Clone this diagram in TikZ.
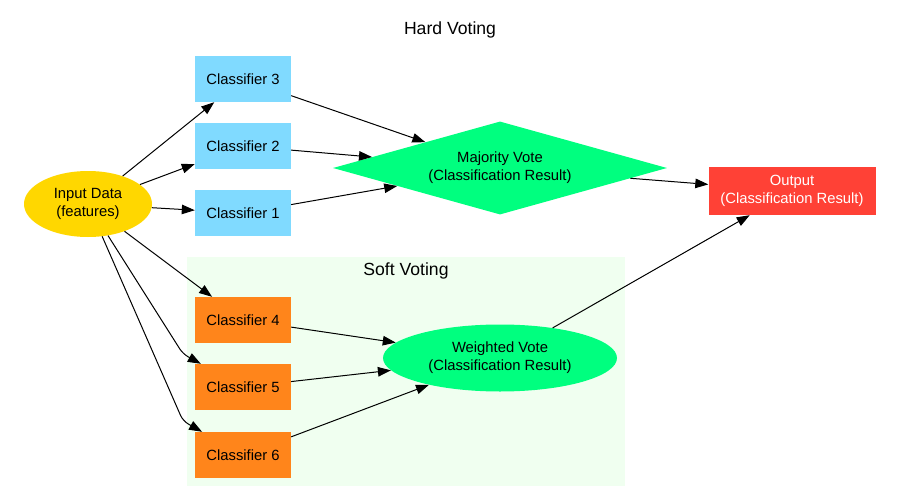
\documentclass[tikz,border=0pt]{standalone}
\usepackage{fontspec}
\setmainfont{Liberation Sans}
\usetikzlibrary{shapes.geometric,arrows.meta}
\definecolor{cblue}{RGB}{128,218,255}
\definecolor{corange}{RGB}{255,133,27}
\definecolor{cgreen}{RGB}{0,255,127}
\definecolor{cred}{RGB}{255,65,54}
\definecolor{cgold}{RGB}{255,215,0}
\definecolor{choney}{RGB}{240,255,240}
\tikzset{
  base/.style={inner sep=0pt, font=\fontsize{14.8}{18}\selectfont, align=center},
  clsbox/.style={base, rectangle, minimum width=96pt, minimum height=46pt},
  bluebox/.style={clsbox, fill=cblue},
  orangebox/.style={clsbox, fill=corange},
  conn/.style={line width=1pt, -{Triangle[length=13pt,width=9.5pt]}},
  title/.style={inner sep=0pt, font=\fontsize{17.6}{20}\selectfont}
}
\begin{document}
\begin{tikzpicture}[x=1pt,y=-1pt]
\useasboundingbox (0,0) rectangle (900,503);
\fill[choney] (187,257) rectangle (625,486);
\node[title] (hard) at (450,30) {Hard Voting};
\node[title] (soft) at (406,271) {Soft Voting};

\node[base, ellipse, fill=cgold, minimum width=128pt, minimum height=66pt] (in) at (88,204) {Input Data\\(features)};
\node[bluebox] (c3) at (243,79) {Classifier 3};
\node[bluebox] (c2) at (243,146) {Classifier 2};
\node[bluebox] (c1) at (243,213) {Classifier 1};
\node[orangebox] (c4) at (243,320) {Classifier 4};
\node[orangebox] (c5) at (243,387) {Classifier 5};
\node[orangebox] (c6) at (243,455) {Classifier 6};
\node[base, diamond, fill=cgreen, aspect=3.6, minimum width=334pt, minimum height=93pt] (mv) at (500,168) {Majority Vote\\(Classification Result)};
\node[base, ellipse, fill=cgreen, minimum width=234pt, minimum height=67pt] (wv) at (500,358) {Weighted Vote\\(Classification Result)};
\node[base, rectangle, fill=cred, text=white, minimum width=167pt, minimum height=48pt] (out) at (792,191) {Output\\(Classification Result)};

\coordinate (b5) at (183,354);
\coordinate (b6) at (183,421);

\draw[conn] (in) -- (c3);
\draw[conn] (in) -- (c2);
\draw[conn] (in) -- (c1);
\draw[conn] (in) -- (c4);
\draw[conn, rounded corners=6pt] (in) -- (b5) -- (c5);
\draw[conn, rounded corners=6pt] (in) -- (b6) -- (c6);
\draw[conn] (c3) -- (mv);
\draw[conn] (c2) -- (mv);
\draw[conn] (c1) -- (mv);
\draw[conn] (c4) -- (wv);
\draw[conn] (c5) -- (wv);
\draw[conn] (c6) -- (wv);
\draw[conn] (mv) -- (out);
\draw[conn] (wv) -- (out);
\end{tikzpicture}
\end{document}
